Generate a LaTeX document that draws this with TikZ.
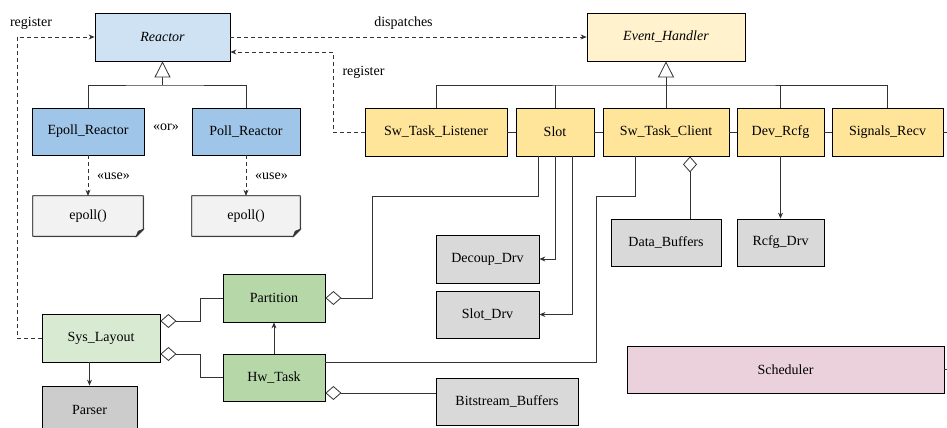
\documentclass[tikz,border=0pt]{standalone}
\usepackage{fontspec}
\setmainfont{LiberationSerif}[Extension=.ttf, UprightFont=*-Regular, ItalicFont=*-Italic, BoldFont=*-Bold, BoldItalicFont=*-BoldItalic]
\usetikzlibrary{arrows.meta,shadows,calc}
\definecolor{reactorc}{HTML}{CFE2F3}
\definecolor{reactsub}{HTML}{9FC5E8}
\definecolor{notec}{HTML}{F2F2F2}
\definecolor{eventc}{HTML}{FFF2CC}
\definecolor{yelc}{HTML}{FFE599}
\definecolor{grayc}{HTML}{D9D9D9}
\definecolor{parserc}{HTML}{CCCCCC}
\definecolor{syslc}{HTML}{D9EAD3}
\definecolor{greenc}{HTML}{B6D7A8}
\definecolor{schedc}{HTML}{EAD1DC}
\definecolor{linec}{HTML}{333333}
\tikzset{
  box/.style={draw=black, line width=0.8pt, inner sep=0pt, font=\rmfamily\fontsize{14}{16}\selectfont,
    drop shadow={shadow xshift=0.8pt, shadow yshift=-0.8pt, fill=gray!70, opacity=1}},
  lbl/.style={font=\rmfamily\fontsize{14}{16}\selectfont, inner sep=0pt},
  conn/.style={draw=linec, line width=0.8pt},
  dsh/.style={draw=linec, line width=0.8pt, dash pattern=on 4pt off 3pt},
  arr/.style={-{Stealth[length=6pt,width=5pt]}},
  inh/.style={-{Triangle[open,length=16pt,width=16pt,fill=white]}},
  agg/.style={{Diamond[open,length=16pt,width=14pt,fill=white]}-},
}
\begin{document}
\begin{tikzpicture}[x=1pt,y=-1pt]
\useasboundingbox (0,0) rectangle (947,428);
\begin{scope}
\clip (0,0) rectangle (947,428);
% top row
\node[box, fill=reactorc, minimum width=135pt, minimum height=48pt] (reactor) at (162.5,37) {\itshape Reactor};
\node[box, fill=eventc, minimum width=158pt, minimum height=48pt] (event) at (666,37) {\itshape Event\_Handler};
% reactor subclasses
\node[box, fill=reactsub, minimum width=112pt, minimum height=47pt] (epollr) at (88,131.5) {Epoll\_Reactor};
\node[box, fill=reactsub, minimum width=108pt, minimum height=47pt] (pollr) at (246,131.5) {Poll\_Reactor};
% notes
\node[lbl, minimum width=110pt, minimum height=40pt] (note1) at (88,216) {};
\node[lbl, minimum width=108pt, minimum height=40pt] (note2) at (246,216) {};
\foreach \n in {note1,note2}{
  \filldraw[fill=notec, draw=black, line width=0.8pt, drop shadow={shadow xshift=0.8pt, shadow yshift=-0.8pt, fill=gray!70, opacity=1}]
    (\n.north west) -- (\n.north east) -- ([yshift=7pt]\n.south east) -- ([xshift=-7pt]\n.south east) -- (\n.south west) -- cycle;
  \filldraw[fill=linec, draw=linec, line width=0.6pt]
    ([yshift=7pt]\n.south east) -- ([xshift=-7pt]\n.south east) -- ([xshift=-5pt,yshift=5pt]\n.south east) -- cycle;
  \node[lbl] at (\n.center) {epoll()};
}
% event handler subclasses
\node[box, fill=yelc, minimum width=142pt, minimum height=48pt] (swl) at (436,132) {Sw\_Task\_Listener};
\node[box, fill=yelc, minimum width=78pt, minimum height=48pt] (slot) at (555,132) {Slot};
\node[box, fill=yelc, minimum width=126pt, minimum height=48pt] (swc) at (666,132) {Sw\_Task\_Client};
\node[box, fill=yelc, minimum width=87pt, minimum height=48pt] (devr) at (780.5,132) {Dev\_Rcfg};
\node[box, fill=yelc, minimum width=111pt, minimum height=48pt] (sig) at (887.5,132) {Signals\_Recv};
% drivers
\node[box, fill=grayc, minimum width=103pt, minimum height=48pt] (decoup) at (487.5,259) {Decoup\_Drv};
\node[box, fill=grayc, minimum width=103pt, minimum height=47pt] (slotdrv) at (487.5,314.5) {Slot\_Drv};
\node[box, fill=grayc, minimum width=110pt, minimum height=47pt] (databuf) at (666,242.5) {Data\_Buffers};
\node[box, fill=grayc, minimum width=87pt, minimum height=47pt] (rcfgdrv) at (780.5,242.5) {Rcfg\_Drv};
% lower left
\node[box, fill=syslc, minimum width=118pt, minimum height=48pt] (sysl) at (101,338) {Sys\_Layout};
\node[box, fill=greenc, minimum width=102pt, minimum height=48pt] (part) at (274,298) {Partition};
\node[box, fill=greenc, minimum width=102pt, minimum height=47pt] (hwt) at (274,377.5) {Hw\_Task};
\node[box, fill=parserc, minimum width=95pt, minimum height=48pt] (parser) at (89.5,410) {Parser};
\node[box, fill=grayc, minimum width=142pt, minimum height=47pt] (bitbuf) at (507,401.5) {Bitstream\_Buffers};
\node[box, fill=schedc, minimum width=317pt, minimum height=47pt] (sched) at (785.5,369.5) {Scheduler};

% coordinates
\coordinate (rj) at (162.5,85);
\coordinate (ej) at (666,85);
\coordinate (lc) at (17,37);
\coordinate (rc) at (333,52);
\coordinate (sp1) at (372,196);
\coordinate (sc1) at (596,196);
\coordinate (sl1) at (200,298);
\coordinate (sl2) at (200,377.5);
\coordinate (sigend) at (947,132);
\coordinate (schedend) at (947,369.5);
\coordinate (hb) at ([yshift=-15.5pt]hwt.east);

% inheritance
\draw[conn] (epollr.north) |- (rj) -| (pollr.north);
\draw[conn, inh] (rj) -- (reactor.south);
\draw[conn] (swl.north) |- (ej) -| (sig.north);
\draw[conn] (slot.north) -- (slot.north |- ej);
\draw[conn] (devr.north) -- (devr.north |- ej);
\draw[conn] (swc.north) -- (ej);
\draw[conn, inh] (ej) -- (event.south);
% chain
\draw[conn] (swl.east) -- (slot.west);
\draw[conn] (slot.east) -- (swc.west);
\draw[conn] (swc.east) -- (devr.west);
\draw[conn] (devr.east) -- (sig.west);
\draw[conn] (sig.east) -- (sigend);
\draw[conn] (sched.east) -- (schedend);
% dashed
\draw[dsh, arr] (sysl.west) -| (lc) -- (reactor.west);
\draw[dsh, arr] (reactor.east) -- (event.west);
\draw[dsh, arr] (swl.west) -| (rc) -- (rc -| reactor.east);
\draw[dsh, arr] (epollr.south) -- (note1.north);
\draw[dsh, arr] (pollr.south) -- (note2.north);
\node[lbl] (lreg1) at (31,23) {register};
\node[lbl] (ldisp) at (403.5,23) {dispatches};
\node[lbl] (lreg2) at (363.5,72) {register};
\node[lbl] (lor) at (166,127) {«or»};
\node[lbl] (luse1) at (113.5,176) {«use»};
\node[lbl] (luse2) at (271.5,176) {«use»};
% slot connections
\draw[conn, agg] (part.east) -| (sp1) -| ([xshift=-17pt]slot.south);
\draw[conn, arr] (slot.south) |- (decoup.east);
\draw[conn, arr] ([xshift=17pt]slot.south) |- (slotdrv.east);
% sw task client
\draw[conn] ([yshift=15.5pt]hwt.east) -| (sc1) -| ([xshift=-31pt]swc.south);
\draw[conn, agg] ([xshift=24pt]swc.south) -- ([xshift=24pt]databuf.north);
\draw[conn, arr] (devr.south) -- (rcfgdrv.north);
% sys layout
\draw[conn, agg] ([yshift=17pt]sysl.east) -| (sl1) -- (part.west);
\draw[conn, agg] ([yshift=-16pt]sysl.east) -| (sl2) -- (hwt.west);
\draw[conn, arr] (hwt.north) -- (part.south);
\draw[conn, arr] (parser.north |- sysl.south) -- (parser.north);
\draw[conn, agg] (hb) -- (hb -| bitbuf.west);
\end{scope}
\end{tikzpicture}
\end{document}
